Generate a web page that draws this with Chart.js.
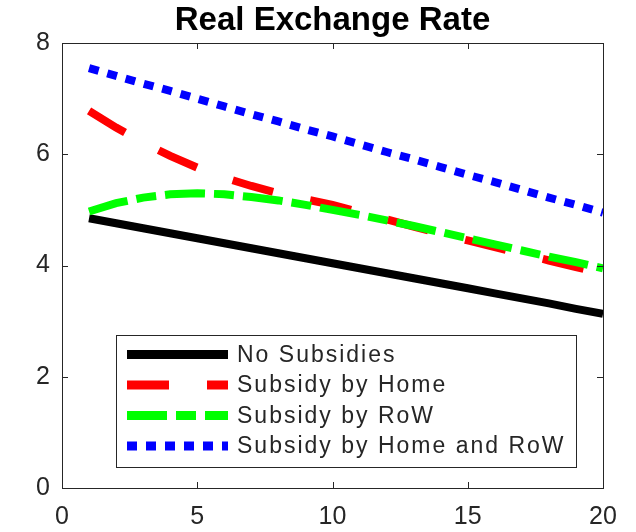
<!DOCTYPE html>
<html>
<head>
<meta charset="utf-8">
<title>Real Exchange Rate</title>
<script src="https://cdn.jsdelivr.net/npm/chart.js@4.4.1/dist/chart.umd.min.js"></script>
<style>
    html, body { margin: 0; padding: 0; background: #fff; }
    #wrap { width: 636px; height: 532px; }
</style>
</head>
<body>
<div id="wrap"><canvas id="rerChart"></canvas></div>
<script>
// Values
const periods = [1, 2, 3, 4, 5, 6, 7, 8, 9, 10, 11, 12, 13, 14, 15, 16, 17, 18, 19, 20];
const noSubsidies = [4.85, 4.76, 4.67, 4.58, 4.49, 4.40, 4.31, 4.22, 4.13, 4.04, 3.95, 3.86, 3.77, 3.68, 3.59, 3.50, 3.41, 3.32, 3.22, 3.13];
const subsidyHome = [6.78, 6.48, 6.21, 5.97, 5.76, 5.58, 5.43, 5.30, 5.19, 5.09, 4.96, 4.83, 4.70, 4.57, 4.45, 4.33, 4.21, 4.09, 3.97, 3.86];
const subsidyRow = [4.97, 5.12, 5.22, 5.28, 5.30, 5.28, 5.23, 5.17, 5.09, 5.00, 4.91, 4.81, 4.71, 4.60, 4.49, 4.38, 4.27, 4.16, 4.06, 3.95];
const subsidyBoth = [7.55, 7.41, 7.27, 7.14, 7.00, 6.86, 6.72, 6.59, 6.45, 6.32, 6.18, 6.04, 5.91, 5.77, 5.63, 5.50, 5.36, 5.22, 5.09, 4.95];
const xTicks = [0, 5, 10, 15, 20];
const yTicks = [0, 2, 4, 6, 8];

const FONT = '"Liberation Sans", Arial, Helvetica, sans-serif';
const AXIS_COLOR = '#262626';

const toPoints = (ys) => ys.map((y, i) => ({ x: periods[i], y: y }));

// box round the axes with inward ticks on all four sides
const boxPlugin = {
    id: 'matlabBox',
    afterDatasetsDraw(chart) {
        const { ctx, chartArea: a, scales } = chart;
        const tl = 6;
        ctx.save();
        ctx.strokeStyle = AXIS_COLOR;
        ctx.lineWidth = 1;
        ctx.beginPath();
        xTicks.forEach(v => {
            const px = Math.round(scales.x.getPixelForValue(v)) + 0.5;
            ctx.moveTo(px, a.bottom); ctx.lineTo(px, a.bottom - tl);
            ctx.moveTo(px, a.top); ctx.lineTo(px, a.top + tl);
        });
        yTicks.forEach(v => {
            const py = Math.round(scales.y.getPixelForValue(v)) + 0.5;
            ctx.moveTo(a.left, py); ctx.lineTo(a.left + tl, py);
            ctx.moveTo(a.right, py); ctx.lineTo(a.right - tl, py);
        });
        ctx.stroke();
        ctx.strokeRect(Math.round(a.left) + 0.5, Math.round(a.top) + 0.5,
            Math.round(a.right - a.left), Math.round(a.bottom - a.top));
        ctx.restore();
    }
};

// legend box sitting inside the plot, lower middle
const insideLegend = {
    id: 'insideLegend',
    afterDraw(chart) {
        const { ctx, chartArea: a } = chart;
        const sets = chart.data.datasets;
        const sampleW = 101, gap = 9, rowH = 30.5;
        ctx.save();
        ctx.font = '23px ' + FONT;
        ctx.letterSpacing = '2px';
        const textW = Math.max(...sets.map(d => ctx.measureText(d.label).width));
        const left = a.left + 54;
        const height = 20 + rowH * (sets.length - 1) + 20;
        const top = a.bottom - 22 - height;
        const width = 11 + sampleW + gap + textW + 10;

        ctx.fillStyle = '#fff';
        ctx.fillRect(left, top, width, height);
        ctx.strokeStyle = AXIS_COLOR;
        ctx.lineWidth = 1;
        ctx.strokeRect(Math.round(left) + 0.5, Math.round(top) + 0.5, Math.round(width), Math.round(height));

        sets.forEach((d, i) => {
            const y = top + 20 + i * rowH;
            ctx.beginPath();
            ctx.setLineDash(d.borderDash || []);
            ctx.lineCap = 'butt';
            ctx.lineWidth = 9;
            ctx.strokeStyle = d.borderColor;
            ctx.moveTo(left + 11, y);
            ctx.lineTo(left + 11 + sampleW, y);
            ctx.stroke();
            ctx.setLineDash([]);
            ctx.fillStyle = AXIS_COLOR;
            ctx.textAlign = 'left';
            ctx.textBaseline = 'middle';
            ctx.fillText(d.label, left + 11 + sampleW + gap, y + 1);
        });
        ctx.restore();
    }
};

const data = {
    datasets: [
        {
            label: 'No Subsidies',
            data: toPoints(noSubsidies),
            borderColor: '#000000',
            borderWidth: 8,
            order: 4
        },
        {
            label: 'Subsidy by Home',
            data: toPoints(subsidyHome),
            borderColor: '#ff0000',
            borderWidth: 8,
            borderDash: [42, 38],
            order: 3
        },
        {
            label: 'Subsidy by RoW',
            data: toPoints(subsidyRow),
            borderColor: '#00ff00',
            borderWidth: 8,
            borderDash: [40, 9, 20, 9],
            order: 2
        },
        {
            label: 'Subsidy by Home and RoW',
            data: toPoints(subsidyBoth),
            borderColor: '#0000ff',
            borderWidth: 8,
            borderDash: [10, 9],
            order: 1
        }
    ]
};

const config = {
    type: 'line',
    data: data,
    options: {
        responsive: true,
        maintainAspectRatio: false,
        animation: false,
        layout: { padding: { left: 0, right: 33, top: 0, bottom: 0 } },
        elements: {
            point: { radius: 0, hoverRadius: 0 },
            line: { tension: 0, borderCapStyle: 'butt', fill: false }
        },
        plugins: {
            legend: { display: false },
            tooltip: { enabled: false },
            title: {
                display: true,
                text: 'Real Exchange Rate',
                fullSize: false,
                color: '#000',
                font: { family: FONT, size: 33, weight: 'bold' },
                padding: { top: 1, bottom: 2.4 }
            }
        },
        scales: {
            x: {
                type: 'linear',
                min: 0,
                max: 20,
                grid: { display: false, drawTicks: false },
                border: { display: false },
                afterBuildTicks: (scale) => { scale.ticks = xTicks.map(v => ({ value: v })); },
                afterFit: (scale) => { scale.height = 44; },
                ticks: {
                    color: AXIS_COLOR,
                    padding: 14,
                    maxRotation: 0,
                    font: { family: FONT, size: 25 }
                }
            },
            y: {
                type: 'linear',
                min: 0,
                max: 8,
                grid: { display: false, drawTicks: false },
                border: { display: false },
                afterBuildTicks: (scale) => { scale.ticks = yTicks.map(v => ({ value: v })); },
                afterFit: (scale) => { scale.width = 62; },
                ticks: {
                    color: AXIS_COLOR,
                    padding: 12,
                    font: { family: FONT, size: 25 }
                }
            }
        }
    },
    plugins: [boxPlugin, insideLegend]
};

window.addEventListener('load', () => {
    const el = document.getElementById('rerChart');
    if (!el) {
        console.error('Chart element not found!');
        return;
    }
    new Chart(el.getContext('2d'), config);
});
</script>
</body>
</html>
